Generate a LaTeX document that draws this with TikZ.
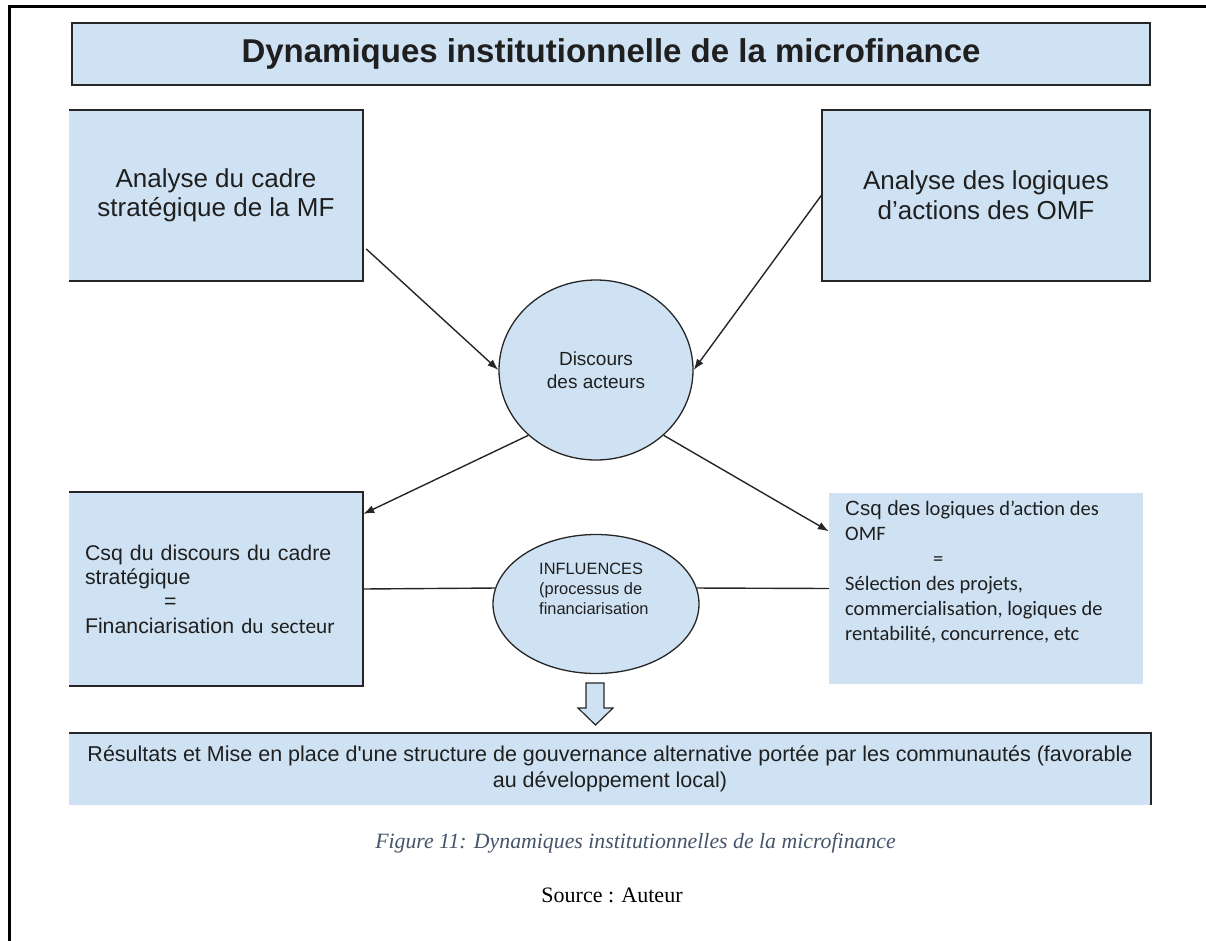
\documentclass[tikz,border=0pt]{standalone}
\usepackage{fontspec}
\setmainfont{Liberation Serif}
\newfontfamily\arial{Liberation Sans}
\newfontfamily\calibri{Carlito}
\usetikzlibrary{shapes.geometric,arrows.meta}
\definecolor{bleuclair}{HTML}{CFE2F3}
\definecolor{trait}{HTML}{262626}
\definecolor{legende}{HTML}{44546A}
\newcommand{\taille}[2]{\fontsize{#1}{#2}\selectfont}

\begin{document}
\begin{tikzpicture}[x=1pt,y=-1pt]
\tikzstyle{fond}=[fill=bleuclair, inner sep=0pt, text=black!88]
\tikzstyle{bord}=[draw=trait, line width=1.5pt]
\tikzstyle{boite}=[fond, bord]
\tikzstyle{bulle}=[ellipse, fond, draw=trait, line width=1.3pt]
\tikzstyle{lien}=[draw=trait, line width=1.4pt]
\tikzstyle{fleche}=[lien, -{Latex[length=11pt,width=8pt]}]

\useasboundingbox (0,0) rectangle (1206,941);
\draw[line width=3.5pt] (9.5,941) -- (9.5,6.5) -- (1206,6.5);

\node[boite, minimum width=1078pt, minimum height=62pt, font=\arial\bfseries\taille{33}{38}] (titre) at (611,54) {Dynamiques institutionnelle de la microfinance};

\node[fond, minimum width=294pt, minimum height=171pt, align=center, font=\arial\taille{26}{29}] (cadre) at (216,195.5) {Analyse du cadre\\stratégique de la MF};
\draw[bord] (cadre.north west) -- (cadre.north east) -- (cadre.south east) -- (cadre.south west);
\node[boite, minimum width=328pt, minimum height=171pt, align=center, font=\arial\taille{26}{30}] (logiques) at (986,195.5) {Analyse des logiques\\d’actions des OMF};

\node[bulle, minimum width=194pt, minimum height=180pt, align=center, font=\arial\taille{19}{23}] (discours) at (596,370) {Discours\\des acteurs};

\node[fond, minimum width=294pt, minimum height=194pt, text width=262pt, align=left, font=\arial\taille{21.3}{24.3}] (csqcadre) at (216,589) {Csq du discours du cadre\\stratégique\\\hspace*{79pt}=\\Financiarisation {\calibri du secteur}};
\draw[bord] (csqcadre.north west) -- (csqcadre.north east) -- (csqcadre.south east) -- (csqcadre.south west);

\node[bulle, minimum width=206pt, minimum height=139pt] (influences) at (596,604) {};
\node[anchor=north west, inner sep=0pt, align=left, text=black!88, font=\arial\taille{16.4}{20}] (txtinfluences) at (539,563) {INFLUENCES\\(processus de\\financiarisation};

\node[fond, minimum width=314pt, minimum height=191pt] (csqlogiques) at (986,588.5) {};
\node[anchor=north west, inner sep=0pt, align=left, text=black!88, font=\calibri\taille{20.5}{25}] (txtlogiques) at (845,500) {{\arial Csq des} logiques d’action des\\OMF\\\hspace*{88pt}=\\Sélection des projets,\\commercialisation, logiques de\\rentabilité, concurrence, etc};

\draw[fond, draw=trait, line width=1.2pt] (586,683) -- (604,683) -- (604,708) -- (613,708) -- (595.5,725) -- (578,708) -- (586,708) -- cycle;

\node[fond, minimum width=1082pt, minimum height=72pt, align=center, font=\arial\taille{21.5}{26}] (resultats) at (610,769) {Résultats et Mise en place d'une structure de gouvernance alternative portée par les communautés (favorable\\au développement local)};
\draw[bord] (resultats.north west) -- (resultats.north east) -- (resultats.south east);

\draw[fleche, shorten <=4pt] (cadre.-19) -- (discours.west);
\draw[fleche] (logiques.west) -- (discours.east);
\draw[fleche] (discours.224) -- (csqcadre.27);
\draw[fleche] (discours.316) -- (csqlogiques.160);
\draw[lien] (csqcadre.east) -- (influences.171);
\draw[lien] (influences.9) -- (csqlogiques.west);

\node[anchor=base, text=legende, font=\itshape\taille{21.8}{26}] (legende) at (635.5,848) {Figure 11: Dynamiques institutionnelles de la microfinance};
\node[anchor=base, font=\taille{22}{26}] (source) at (612,902) {Source : Auteur};
\end{tikzpicture}
\end{document}
